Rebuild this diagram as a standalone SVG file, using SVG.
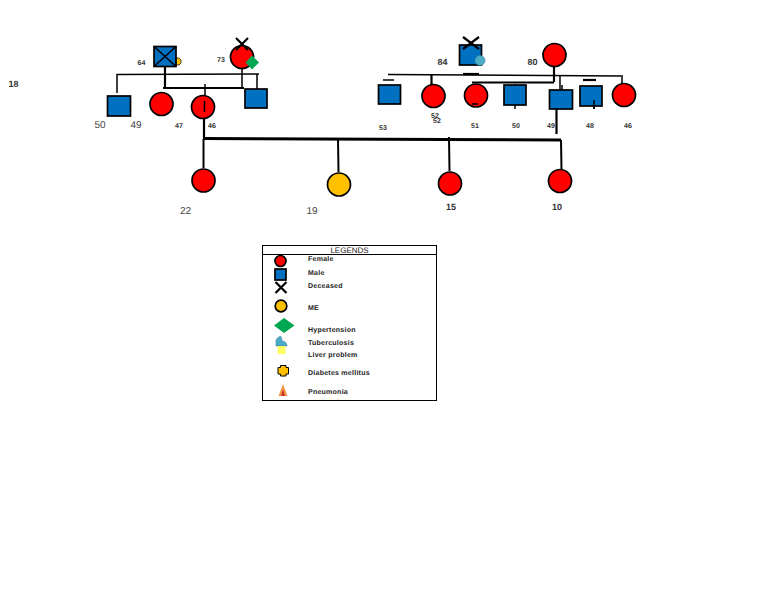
<svg xmlns="http://www.w3.org/2000/svg" width="768" height="594" viewBox="0 0 768 594">
<style>
text{font-family:"Liberation Sans",Arial,sans-serif;fill:#222;text-rendering:geometricPrecision}
.f{fill:#f00;stroke:#000;stroke-width:1.7}
.m{fill:#0070c0;stroke:#000;stroke-width:1.7}
.me{fill:#ffc000;stroke:#000;stroke-width:1.7}
.l{stroke:#000;stroke-width:1.5;fill:none}
.c{stroke:#000;stroke-width:2;fill:none}
.t{stroke:#000;stroke-width:2.2;fill:none}
.b{stroke:#000;stroke-width:3;fill:none}
.a{font-size:9px;font-weight:bold;text-anchor:middle;fill:#333}
.s{font-size:7px;font-weight:bold;text-anchor:middle;fill:#333}
.g{font-size:10px;text-anchor:middle;fill:#444}
.k{font-size:7px;font-weight:bold;fill:#222;letter-spacing:.25px}
.dm{fill:#ffc000;stroke:#000;stroke-width:1}
.tb{fill:#4bacc6;stroke:#2f7f9f;stroke-width:.6}
</style>
<rect width="768" height="594" fill="#fff"/>
<g id="connectors">
<path class="l" d="M117 93V74.500L259 74"/>
<path class="t" d="M165 67V88"/>
<path class="t" d="M163 88H244"/>
<path class="l" d="M242 69V88M257 74V89M205 84V95"/>
<path class="t" d="M204 118V139"/>
<path class="l" d="M388 74.500L621 76"/>
<path class="t" d="M463 74H479"/>
<path class="t" d="M554 67V82"/>
<path class="t" d="M472 82.500H554"/>
<path class="t" d="M431.500 75V85"/>
<path class="l" d="M383 80H394"/>
<path class="l" d="M515 84V86M515 104V109"/>
<path class="l" d="M560 76V90M562 85V90"/>
<path class="t" d="M556.500 109V134"/>
<path class="t" d="M583 80H596"/>
<path class="l" d="M594 100V109"/>
<path class="l" d="M622 75V84"/>
<path class="b" d="M203 138.500L561 140"/>
<path class="c" d="M203.500 139V168"/>
<path class="c" d="M338 139L338.500 172"/>
<path class="c" d="M449 137L449.500 171"/>
<path class="c" d="M561 140L561.500 170"/>
</g>
<g id="node-grandfather-paternal">
<path d="M176 58H179L181 60V63L179 65H176Z" fill="#ffc000" stroke="#000" stroke-width=".7"/>
<rect class="m" x="154" y="46.500" width="22" height="20"/>
<path class="l" d="M154 46.500L176 66.500M176 46.500L154 66.500"/>
<text class="s" x="141.500" y="65">64</text>
</g>
<g id="node-grandmother-paternal">
<circle class="f" cx="242" cy="57" r="11.500"/>
<path class="t" d="M236 38L248 50M248 38L236 50"/>
<path d="M252 55.500L259 62.500L252 69.500L245.500 62.500Z" fill="#00a650"/>
<text class="s" x="221" y="61.500">73</text>
</g>
<g id="node-p1"><rect class="m" x="107.500" y="96" width="23" height="20"/></g>
<g id="node-p2"><circle class="f" cx="161.500" cy="104" r="11.500"/></g>
<g id="node-father"><circle class="f" cx="203" cy="107" r="11.500"/><path class="l" d="M204.500 101V112"/></g>
<g id="node-p4"><rect class="m" x="245" y="89" width="22" height="19"/></g>
<g id="node-grandfather-maternal">
<rect class="m" x="459.500" y="45" width="22" height="20"/>
<circle class="tb" cx="480" cy="60.500" r="5"/>
<path class="t" d="M463 37L479 49M479 37L463 49"/>
<text class="a" x="442.500" y="65">84</text>
</g>
<g id="node-grandmother-maternal">
<circle class="f" cx="554.500" cy="55" r="11.500"/>
<text class="a" x="532.500" y="65">80</text>
</g>
<g id="node-m1"><rect class="m" x="378.500" y="85" width="22" height="19"/></g>
<g id="node-m2"><circle class="f" cx="433.500" cy="96" r="11.500"/></g>
<g id="node-m3"><circle class="f" cx="476" cy="95.500" r="11.500"/><path class="l" d="M472 104H478"/></g>
<g id="node-m4"><rect class="m" x="504" y="85" width="22" height="20"/></g>
<g id="node-mother"><rect class="m" x="549.500" y="90" width="23" height="19"/></g>
<g id="node-m6"><rect class="m" x="580" y="86" width="22" height="20"/><path class="l" d="M594 100V109"/></g>
<g id="node-m7"><circle class="f" cx="624" cy="95" r="11.500"/></g>
<g id="node-c1"><circle class="f" cx="203.500" cy="180.500" r="11.500"/></g>
<g id="node-me"><circle class="me" cx="339" cy="184.500" r="11.500"/></g>
<g id="node-c3"><circle class="f" cx="450" cy="183.500" r="11.500"/></g>
<g id="node-c4"><circle class="f" cx="560" cy="181" r="11.500"/></g>
<g id="labels">
<text class="a" x="13.500" y="87">18</text>
<text class="g" x="100" y="128">50</text>
<text class="g" x="136" y="128">49</text>
<text class="s" x="179" y="127.500">47</text>
<text class="s" x="212" y="127.500">46</text>
<text class="s" x="383" y="130">53</text>
<text class="s" x="435" y="118">52</text>
<text class="s" x="437" y="122.500">52</text>
<text class="s" x="475" y="127.500">51</text>
<text class="s" x="516" y="128">50</text>
<text class="s" x="551" y="128">49</text>
<text class="s" x="590" y="128">48</text>
<text class="s" x="628" y="128">46</text>
<text class="g" x="185.500" y="214">22</text>
<text class="g" x="312" y="214">19</text>
<text class="a" x="451" y="210">15</text>
<text class="a" x="557" y="210">10</text>
</g>
<g id="legend">
<rect x="262.500" y="245.500" width="174" height="155" fill="none" stroke="#000"/>
<path d="M262.500 254.500H436.500" stroke="#000"/>
<text x="349.500" y="252.500" font-size="8" text-anchor="middle" fill="#222">LEGENDS</text>
<circle class="f" cx="280.500" cy="261" r="5.500"/>
<rect class="m" x="275" y="269" width="11" height="11"/>
<path class="t" d="M275.500 282L286.500 293M286.500 282L275.500 293"/>
<circle class="me" cx="281" cy="306" r="5.800"/>
<path d="M284 318L294.500 325.500L284 333L274 325.500Z" fill="#00a650"/>
<path class="tb" d="M281 336.500A5 5 0 0 0 276 341.500V346H287A5.500 5.500 0 0 0 282 341Z"/>
<rect x="277.500" y="346" width="8" height="8" fill="#ffff66"/>
<path class="dm" d="M280.500 365.500H286V367.500H288.500V374H286V376H280.500V374H278V367.500H280.500Z" stroke-width="1.400" stroke-linejoin="round"/>
<path d="M283 384L287.500 396H278.500Z" fill="#f79646"/>
<path d="M283 389L285 396H281Z" fill="#c0392b"/>
<text class="k" x="308" y="260.500">Female</text>
<text class="k" x="308" y="274.500">Male</text>
<text class="k" x="308" y="288">Deceased</text>
<text class="k" x="308" y="309.500">ME</text>
<text class="k" x="308" y="331.500">Hypertension</text>
<text class="k" x="308" y="344.500">Tuberculosis</text>
<text class="k" x="308" y="357">Liver problem</text>
<text class="k" x="308" y="375">Diabetes mellitus</text>
<text class="k" x="308" y="393.500">Pneumonia</text>
</g>
</svg>
